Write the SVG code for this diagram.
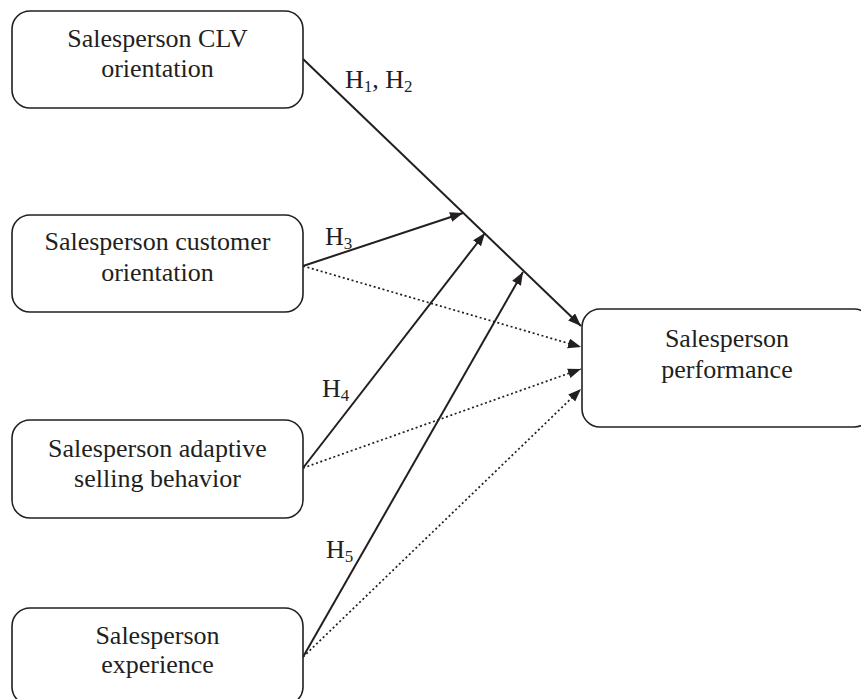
<svg xmlns="http://www.w3.org/2000/svg" width="861" height="699" viewBox="0 0 861 699">
<defs>
<style>
.box{fill:#fff;stroke:#231f20;stroke-width:1.6}
.t{font-family:"Liberation Serif","Times New Roman",serif;font-size:26px;fill:#231f20}
.lab{font-family:"Liberation Serif","Times New Roman",serif;font-size:26px;fill:#231f20}
.sub{font-size:17px}
.solid{fill:none;stroke:#231f20;stroke-width:2}
.dot{fill:none;stroke:#231f20;stroke-width:1.7;stroke-dasharray:2 2.6}
</style>
<marker id="ah" markerUnits="userSpaceOnUse" markerWidth="14" markerHeight="12" refX="13" refY="5" orient="auto">
<path d="M0,0 L13,5 L0,10 z" fill="#231f20"/>
</marker>
</defs>
<rect width="861" height="699" fill="#fff"/>
<g id="connectors">
<line class="solid" x1="303" y1="59" x2="581" y2="326" marker-end="url(#ah)"/>
<line class="solid" x1="303" y1="266" x2="463" y2="213" marker-end="url(#ah)"/>
<line class="solid" x1="303" y1="468" x2="485" y2="233" marker-end="url(#ah)"/>
<line class="solid" x1="303" y1="657" x2="523" y2="272" marker-end="url(#ah)"/>
<line class="dot" x1="303" y1="266" x2="581" y2="347" marker-end="url(#ah)"/>
<line class="dot" x1="303" y1="468" x2="581" y2="369" marker-end="url(#ah)"/>
<line class="dot" x1="303" y1="657" x2="581" y2="389" marker-end="url(#ah)"/>
<text class="lab" x="345" y="88">H<tspan class="sub" dy="4">1</tspan><tspan dy="-4">, H</tspan><tspan class="sub" dy="4">2</tspan></text>
<text class="lab" x="325" y="245">H<tspan class="sub" dy="4">3</tspan></text>
<text class="lab" x="322" y="397">H<tspan class="sub" dy="4">4</tspan></text>
<text class="lab" x="326" y="558">H<tspan class="sub" dy="4">5</tspan></text>
</g>
<g id="clv">
<rect class="box" x="12" y="11" width="291" height="97" rx="18"/>
<text class="t" x="157.5" y="47" text-anchor="middle">Salesperson CLV</text>
<text class="t" x="157.5" y="77" text-anchor="middle">orientation</text>
</g>
<g id="customer">
<rect class="box" x="12" y="215" width="291" height="97" rx="18"/>
<text class="t" x="157.5" y="250" text-anchor="middle">Salesperson customer</text>
<text class="t" x="157.5" y="281" text-anchor="middle">orientation</text>
</g>
<g id="adaptive">
<rect class="box" x="12" y="420" width="291" height="98" rx="18"/>
<text class="t" x="157.5" y="457" text-anchor="middle">Salesperson adaptive</text>
<text class="t" x="157.5" y="487" text-anchor="middle">selling behavior</text>
</g>
<g id="experience">
<rect class="box" x="12" y="608" width="291" height="97" rx="18"/>
<text class="t" x="157.5" y="644" text-anchor="middle">Salesperson</text>
<text class="t" x="157.5" y="673" text-anchor="middle">experience</text>
</g>
<g id="performance">
<rect class="box" x="582" y="309" width="290" height="118" rx="18"/>
<text class="t" x="727" y="347" text-anchor="middle">Salesperson</text>
<text class="t" x="727" y="378" text-anchor="middle">performance</text>
</g>
</svg>
